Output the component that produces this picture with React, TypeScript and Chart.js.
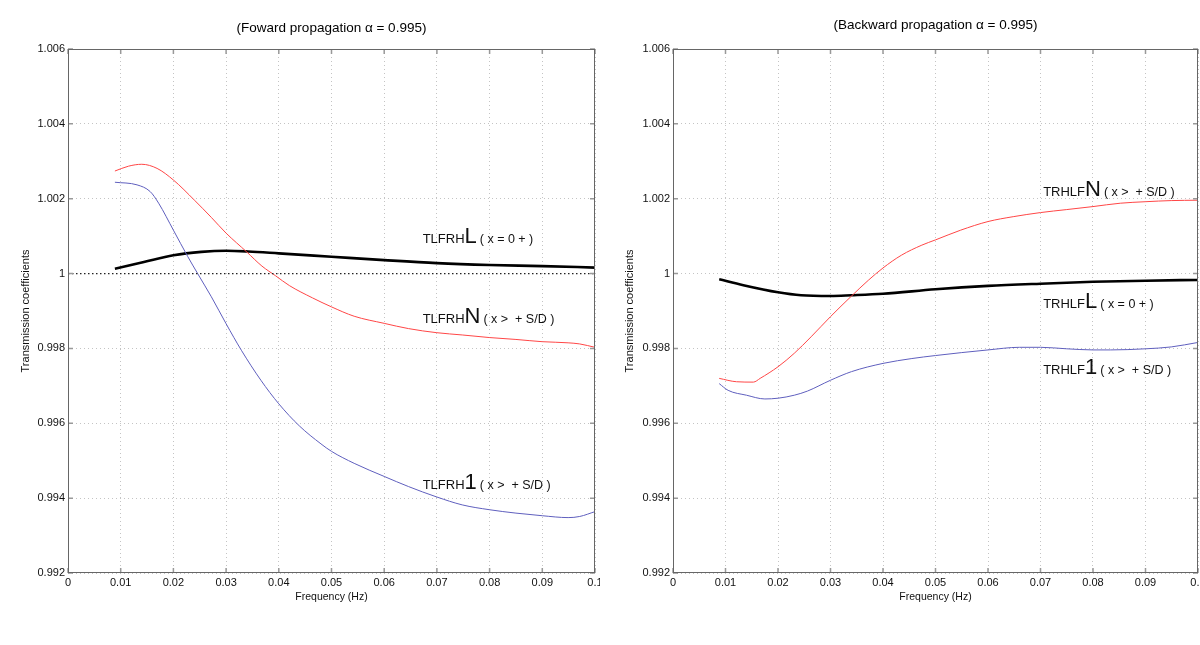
import { useEffect, useRef } from "react";
import { Chart, registerables } from "chart.js";
import type { Plugin } from "chart.js";

Chart.register(...registerables);

const FONT = "'Liberation Sans', Arial, Helvetica, sans-serif";

// axis ticks
const freqTicks = [0, 0.01, 0.02, 0.03, 0.04, 0.05, 0.06, 0.07, 0.08, 0.09, 0.1];
const coeffTicks = [0.992, 0.994, 0.996, 0.998, 1, 1.002, 1.004, 1.006];

// forward propagation
const fwdNFreq = [0.0089, 0.0115, 0.014, 0.0169, 0.02, 0.024, 0.0272, 0.03, 0.0339, 0.0368, 0.0394, 0.042, 0.0464, 0.05, 0.0543, 0.06, 0.0646, 0.07, 0.0748, 0.08, 0.085, 0.09, 0.0949, 0.0971, 0.1];
const fwdNVals = [1.00274, 1.00287, 1.00292, 1.00281, 1.0025, 1.00196, 1.0015, 1.00108, 1.00058, 1.0002, 0.99994, 0.99968, 0.99935, 0.99911, 0.99886, 0.99867, 0.99853, 0.99842, 0.99836, 0.99829, 0.99824, 0.99818, 0.99815, 0.99812, 0.99803];

const fwd1Freq = [0.0089, 0.0131, 0.0156, 0.0172, 0.02, 0.0227, 0.0246, 0.0272, 0.03, 0.0329, 0.0366, 0.04, 0.0439, 0.048, 0.05, 0.0543, 0.06, 0.0646, 0.07, 0.0748, 0.08, 0.085, 0.09, 0.0949, 0.0971, 0.1];
const fwd1Vals = [1.00244, 1.00237, 1.00219, 1.00188, 1.00116, 1.00046, 1.0, 0.99938, 0.99866, 0.99795, 0.99715, 0.99652, 0.99593, 0.99545, 0.99525, 0.99493, 0.99458, 0.99431, 0.99403, 0.99382, 0.99369, 0.9936, 0.99353, 0.99348, 0.99351, 0.99364];

const fwdLFreq = [0.0089, 0.0144, 0.02, 0.0253, 0.03, 0.0342, 0.04, 0.05, 0.06, 0.07, 0.08, 0.09, 0.1];
const fwdLVals = [1.00013, 1.00031, 1.00049, 1.00058, 1.00061, 1.00059, 1.00054, 1.00045, 1.00036, 1.00028, 1.00023, 1.0002, 1.00016];

const unityFreq = [0, 0.1];
const unityVals = [1, 1];

// backward propagation
const bwdNFreq = [0.0088, 0.0121, 0.0153, 0.0166, 0.02, 0.0231, 0.0263, 0.03, 0.034, 0.0372, 0.04, 0.0435, 0.0474, 0.05, 0.0548, 0.06, 0.0648, 0.07, 0.075, 0.08, 0.0852, 0.09, 0.0949, 0.1];
const bwdNVals = [0.9972, 0.99711, 0.9971, 0.9972, 0.99751, 0.99787, 0.99831, 0.99885, 0.9994, 0.99982, 1.00015, 1.00049, 1.00076, 1.0009, 1.00116, 1.00139, 1.00152, 1.00163, 1.00171, 1.00179, 1.00188, 1.00192, 1.00195, 1.00196];

const bwd1Freq = [0.0088, 0.0105, 0.014, 0.0175, 0.02, 0.0231, 0.0256, 0.03, 0.034, 0.04, 0.0455, 0.05, 0.06, 0.066, 0.07, 0.075, 0.08, 0.0833, 0.09, 0.0949, 0.1];
const bwd1Vals = [0.99706, 0.99688, 0.99675, 0.99665, 0.99667, 0.99675, 0.99686, 0.99715, 0.99738, 0.9976, 0.99773, 0.99781, 0.99796, 0.99803, 0.99803, 0.99799, 0.99796, 0.99796, 0.99799, 0.99804, 0.99816];

const bwdLFreq = [0.0088, 0.0134, 0.02, 0.0244, 0.03, 0.034, 0.04, 0.05, 0.06, 0.07, 0.08, 0.09, 0.1];
const bwdLVals = [0.99985, 0.99969, 0.9995, 0.99942, 0.9994, 0.99942, 0.99946, 0.99958, 0.99967, 0.99973, 0.99978, 0.99981, 0.99983];

// curve labels: [freq, coeff, prefix, big letter, suffix]
type Note = [number, number, string, string, string];
const fwdNotes: Note[] = [
  [0.0673, 1.00082, "TLFRH", "L", "( x = 0 + )"],
  [0.0673, 0.99867, "TLFRH", "N", "( x >  + S/D )"],
  [0.0673, 0.99424, "TLFRH", "1", "( x >  + S/D )"],
];
const bwdNotes: Note[] = [
  [0.0705, 1.00207, "TRHLF", "N", "( x >  + S/D )"],
  [0.0705, 0.99909, "TRHLF", "L", "( x = 0 + )"],
  [0.0705, 0.99732, "TRHLF", "1", "( x >  + S/D )"],
];

const RED = "rgb(255, 70, 70)";
const BLUE = "rgb(95, 95, 190)";

const pts = (xs: number[], ys: number[]) => xs.map((x, i) => ({ x, y: ys[i] }));

const framePlugin: Plugin = {
  id: "frame",
  afterDraw(chart, _args, opts: any) {
    const { ctx, chartArea: a, scales } = chart;
    const xs = scales.x;
    const ys = scales.y;
    ctx.save();
    // inward tick marks on all four sides
    ctx.strokeStyle = "#999";
    ctx.lineWidth = 1.5;
    ctx.beginPath();
    freqTicks.forEach((v) => {
      const px = xs.getPixelForValue(v);
      ctx.moveTo(px, a.bottom);
      ctx.lineTo(px, a.bottom - 5);
      ctx.moveTo(px, a.top);
      ctx.lineTo(px, a.top + 5);
    });
    coeffTicks.forEach((v) => {
      const py = ys.getPixelForValue(v);
      ctx.moveTo(a.left, py);
      ctx.lineTo(a.left + 5, py);
      ctx.moveTo(a.right, py);
      ctx.lineTo(a.right - 5, py);
    });
    ctx.stroke();
    ctx.strokeStyle = "#666";
    ctx.lineWidth = 1;
    ctx.strokeRect(a.left + 0.5, a.top + 0.5, a.right - a.left - 1, a.bottom - a.top - 1);

    // curve labels
    ctx.fillStyle = "#111";
    ctx.textBaseline = "alphabetic";
    ctx.textAlign = "left";
    (opts.notes as Note[]).forEach(([f, c, pre, big, post]) => {
      let px = xs.getPixelForValue(f);
      const py = ys.getPixelForValue(c);
      ctx.font = `13px ${FONT}`;
      ctx.fillText(pre, px, py);
      px += ctx.measureText(pre).width;
      ctx.font = `22px ${FONT}`;
      ctx.fillText(big, px, py);
      px += ctx.measureText(big).width + 3;
      ctx.font = `12.5px ${FONT}`;
      ctx.fillText(post, px, py);
    });
    ctx.restore();
  },
};

interface PanelProps {
  title: string;
  titleCenter: number;
  axisWidth: number;
  yTitlePad: number;
  padRight: number;
  datasets: any[];
  notes: Note[];
}

const TITLE_SIZE = 13.5;

function Panel({ title, titleCenter, axisWidth, yTitlePad, padRight, datasets, notes }: PanelProps) {
  const canvasRef = useRef<HTMLCanvasElement>(null);

  useEffect(() => {
    if (!canvasRef.current) return;
    const tickFont = { family: FONT, size: 11 };
    const half = (TITLE_SIZE * 1.2) / 2;
    const chart = new Chart(canvasRef.current, {
      type: "line",
      data: { datasets },
      options: {
        animation: false,
        responsive: false,
        layout: { padding: { left: 0, right: padRight, top: 0, bottom: 0 } },
        elements: { point: { radius: 0 } },
        plugins: {
          legend: { display: false },
          tooltip: { enabled: false },
          title: {
            display: true,
            text: title,
            fullSize: false,
            color: "#000",
            font: { family: FONT, size: TITLE_SIZE, weight: "normal" },
            padding: { top: titleCenter - half, bottom: 49 - titleCenter - half },
          },
          // @ts-ignore custom plugin options
          frame: { notes },
        },
        scales: {
          x: {
            type: "linear",
            min: 0,
            max: 0.1,
            afterBuildTicks: (s: any) => {
              s.ticks = freqTicks.map((value) => ({ value }));
            },
            afterFit: (s: any) => {
              s.height = 72;
              s.paddingLeft = 0;
              s.paddingRight = 0;
            },
            ticks: {
              color: "#111",
              font: tickFont,
              padding: 3,
              maxRotation: 0,
              autoSkip: false,
              callback: (v: any) => String(Number(Number(v).toFixed(2))),
            },
            grid: { color: "#c4c4c4", drawTicks: false },
            border: { display: false, dash: [1, 3] },
            title: {
              display: true,
              text: "Frequency (Hz)",
              color: "#111",
              font: { family: FONT, size: 10.5 },
              padding: { top: 0, bottom: 41.7 },
            },
          },
          y: {
            type: "linear",
            min: 0.992,
            max: 1.006,
            afterBuildTicks: (s: any) => {
              s.ticks = coeffTicks.map((value) => ({ value }));
            },
            afterFit: (s: any) => {
              s.width = axisWidth;
              s.paddingTop = 0;
              s.paddingBottom = 0;
            },
            ticks: {
              color: "#111",
              font: tickFont,
              padding: 3,
              autoSkip: false,
              callback: (v: any) => String(Number(Number(v).toFixed(3))),
            },
            grid: { color: "#c4c4c4", drawTicks: false },
            border: { display: false, dash: [1, 3] },
            title: {
              display: true,
              text: "Transmission coefficients",
              color: "#111",
              font: { family: FONT, size: 11 },
              padding: { top: yTitlePad, bottom: 0 },
            },
          },
        },
      },
      plugins: [framePlugin],
    });
    return () => chart.destroy();
  }, [title, titleCenter, axisWidth, yTitlePad, padRight, datasets, notes]);

  return <canvas ref={canvasRef} width={600} height={645} style={{ width: 600, height: 645, display: "block" }} />;
}

const curve = (xs: number[], ys: number[], color: string, width: number, dash: number[] = []) => ({
  data: pts(xs, ys),
  borderColor: color,
  borderWidth: width,
  borderDash: dash,
  cubicInterpolationMode: "monotone",
  fill: false,
});

const forwardSets = [
  curve(unityFreq, unityVals, "#222", 1.2, [1.5, 2.5]),
  curve(fwdNFreq, fwdNVals, RED, 1),
  curve(fwd1Freq, fwd1Vals, BLUE, 1),
  curve(fwdLFreq, fwdLVals, "#000", 2.6),
];

const backwardSets = [
  curve(bwdNFreq, bwdNVals, RED, 1),
  curve(bwd1Freq, bwd1Vals, BLUE, 1),
  curve(bwdLFreq, bwdLVals, "#000", 2.6),
];

export default function App() {
  return (
    <div
      style={{
        position: "absolute",
        left: 0,
        top: 0,
        width: 1200,
        height: 645,
        display: "flex",
        background: "#fff",
        overflow: "hidden",
      }}
    >
      <Panel
        title="(Foward propagation α = 0.995)"
        titleCenter={28}
        axisWidth={68}
        yTitlePad={19.4}
        padRight={5}
        datasets={forwardSets}
        notes={fwdNotes}
      />
      <Panel
        title="(Backward propagation α = 0.995)"
        titleCenter={25}
        axisWidth={73}
        yTitlePad={23.4}
        padRight={2}
        datasets={backwardSets}
        notes={bwdNotes}
      />
    </div>
  );
}
